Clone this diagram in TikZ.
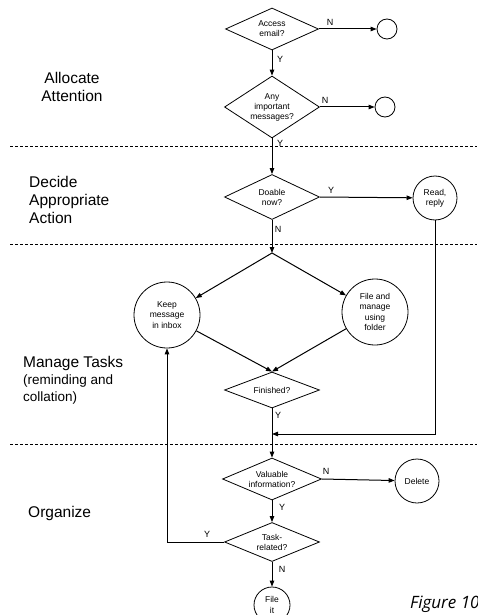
\documentclass[tikz,border=0pt]{standalone}
\usepackage{fontspec}
\setmainfont{Liberation Sans}
\newfontfamily\figfont{Open Sans}
\usetikzlibrary{shapes.geometric,arrows.meta}
\begin{document}
\begin{tikzpicture}[x=1pt,y=-1pt,
  dec/.style={draw,shape=diamond,inner sep=0pt,align=center,shape aspect=2.4,
    font=\fontsize{8.5}{10}\selectfont,line width=0.8pt},
  act/.style={draw,circle,inner sep=0pt,align=center,
    font=\fontsize{8.5}{10.2}\selectfont,line width=0.8pt},
  flow/.style={line width=1pt,-{Triangle[length=6pt,width=4.5pt]}},
  lane/.style={line width=0.6pt,dash pattern=on 3pt off 2pt},
  yn/.style={font=\fontsize{9}{10}\selectfont,inner sep=0pt},
  phase/.style={font=\fontsize{15.5}{18}\selectfont,inner sep=0pt},
  sub/.style={font=\fontsize{13.5}{17}\selectfont,inner sep=0pt},
]
\useasboundingbox (0,0) rectangle (477,615);

% swim-lane separators
\draw[lane] (10,146) -- (477,146);
\draw[lane] (10,244) -- (477,244);
\draw[lane] (10,444) -- (477,444);

% phase labels
\node[phase,align=center] (pa) at (72,87) {Allocate\\Attention};
\node[phase,align=left,anchor=west] (pd) at (29,199.5) {Decide\\Appropriate\\Action};
\node[phase,anchor=west] (pm) at (23,363) {Manage Tasks};
\node[sub,align=left,anchor=west] (pr) at (23,389.5) {(reminding and\\collation)};
\node[phase,anchor=west] (po) at (28,513) {Organize};

% decisions
\node[dec,minimum width=93pt,minimum height=42pt] (d1) at (272,29) {Access\\email?};
\node[dec,minimum width=95pt,minimum height=62pt,shape aspect=1.5] (d2) at (272,107) {Any\\important\\messages?};
\node[dec,minimum width=95pt,minimum height=45pt] (d3) at (272,197) {Doable\\now?};
\node[dec,minimum width=95pt,minimum height=36pt] (d4) at (272,390) {Finished?};
\node[dec,minimum width=99pt,minimum height=42pt] (d5) at (272,479) {Valuable\\information?};
\node[dec,minimum width=95pt,minimum height=39pt] (d6) at (272,542) {Task-\\related?};

% actions
\node[act,minimum size=20pt] (c1) at (387,29) {};
\node[act,minimum size=20pt] (c2) at (385,107) {};
\node[act,minimum size=44pt] (rr) at (435,198) {Read,\\reply};
\node[act,minimum size=66pt] (keep) at (167,315) {Keep\\message\\in inbox};
\node[act,minimum size=66pt] (fold) at (375,312) {File and\\manage\\using\\folder};
\node[act,minimum size=44pt] (del) at (417,481) {Delete};
\node[act,minimum size=36pt] (fit) at (272,605) {File\\it};

\coordinate (j) at (272,253);
\coordinate (m) at (272,434);

% connectors
\draw[flow] (d1.east) -- (c1);
\draw[flow] (d1.south) -- (d2.north);
\draw[flow] (d2.east) -- (c2);
\draw[flow] (d2.south) -- (d3.north);
\draw[flow] (d3.east) -- (rr);
\draw[flow] (d3.south) -- (j);
\draw[flow] (j) -- (keep);
\draw[flow] (j) -- (fold);
\draw[flow] (keep) -- (d4.north);
\draw[flow] (fold) -- (d4.north);
\draw[flow] (rr.south) |- (m);
\draw[flow] (d4.south) -- (d5.north);
\draw[flow] (d5.east) -- (del);
\draw[flow] (d5.south) -- (d6.north);
\draw[flow] (d6.west) -| (keep.south);
\draw[flow] (d6.south) -- (fit);

% branch labels
\node[yn] at (330,22) {N};
\node[yn] at (280,59) {Y};
\node[yn] at (325,100) {N};
\node[yn] at (280,143) {Y};
\node[yn] at (331,190) {Y};
\node[yn] at (278,229) {N};
\node[yn] at (278,415) {Y};
\node[yn] at (326,471) {N};
\node[yn] at (282,507) {Y};
\node[yn] at (207,534) {Y};
\node[yn] at (282,569) {N};

% caption (cut off at the page edge)
\node[font=\figfont\itshape\fontsize{17}{19}\selectfont,anchor=base west,inner sep=0pt] (cap) at (410,608) {Figure 10};
\end{tikzpicture}
\end{document}
